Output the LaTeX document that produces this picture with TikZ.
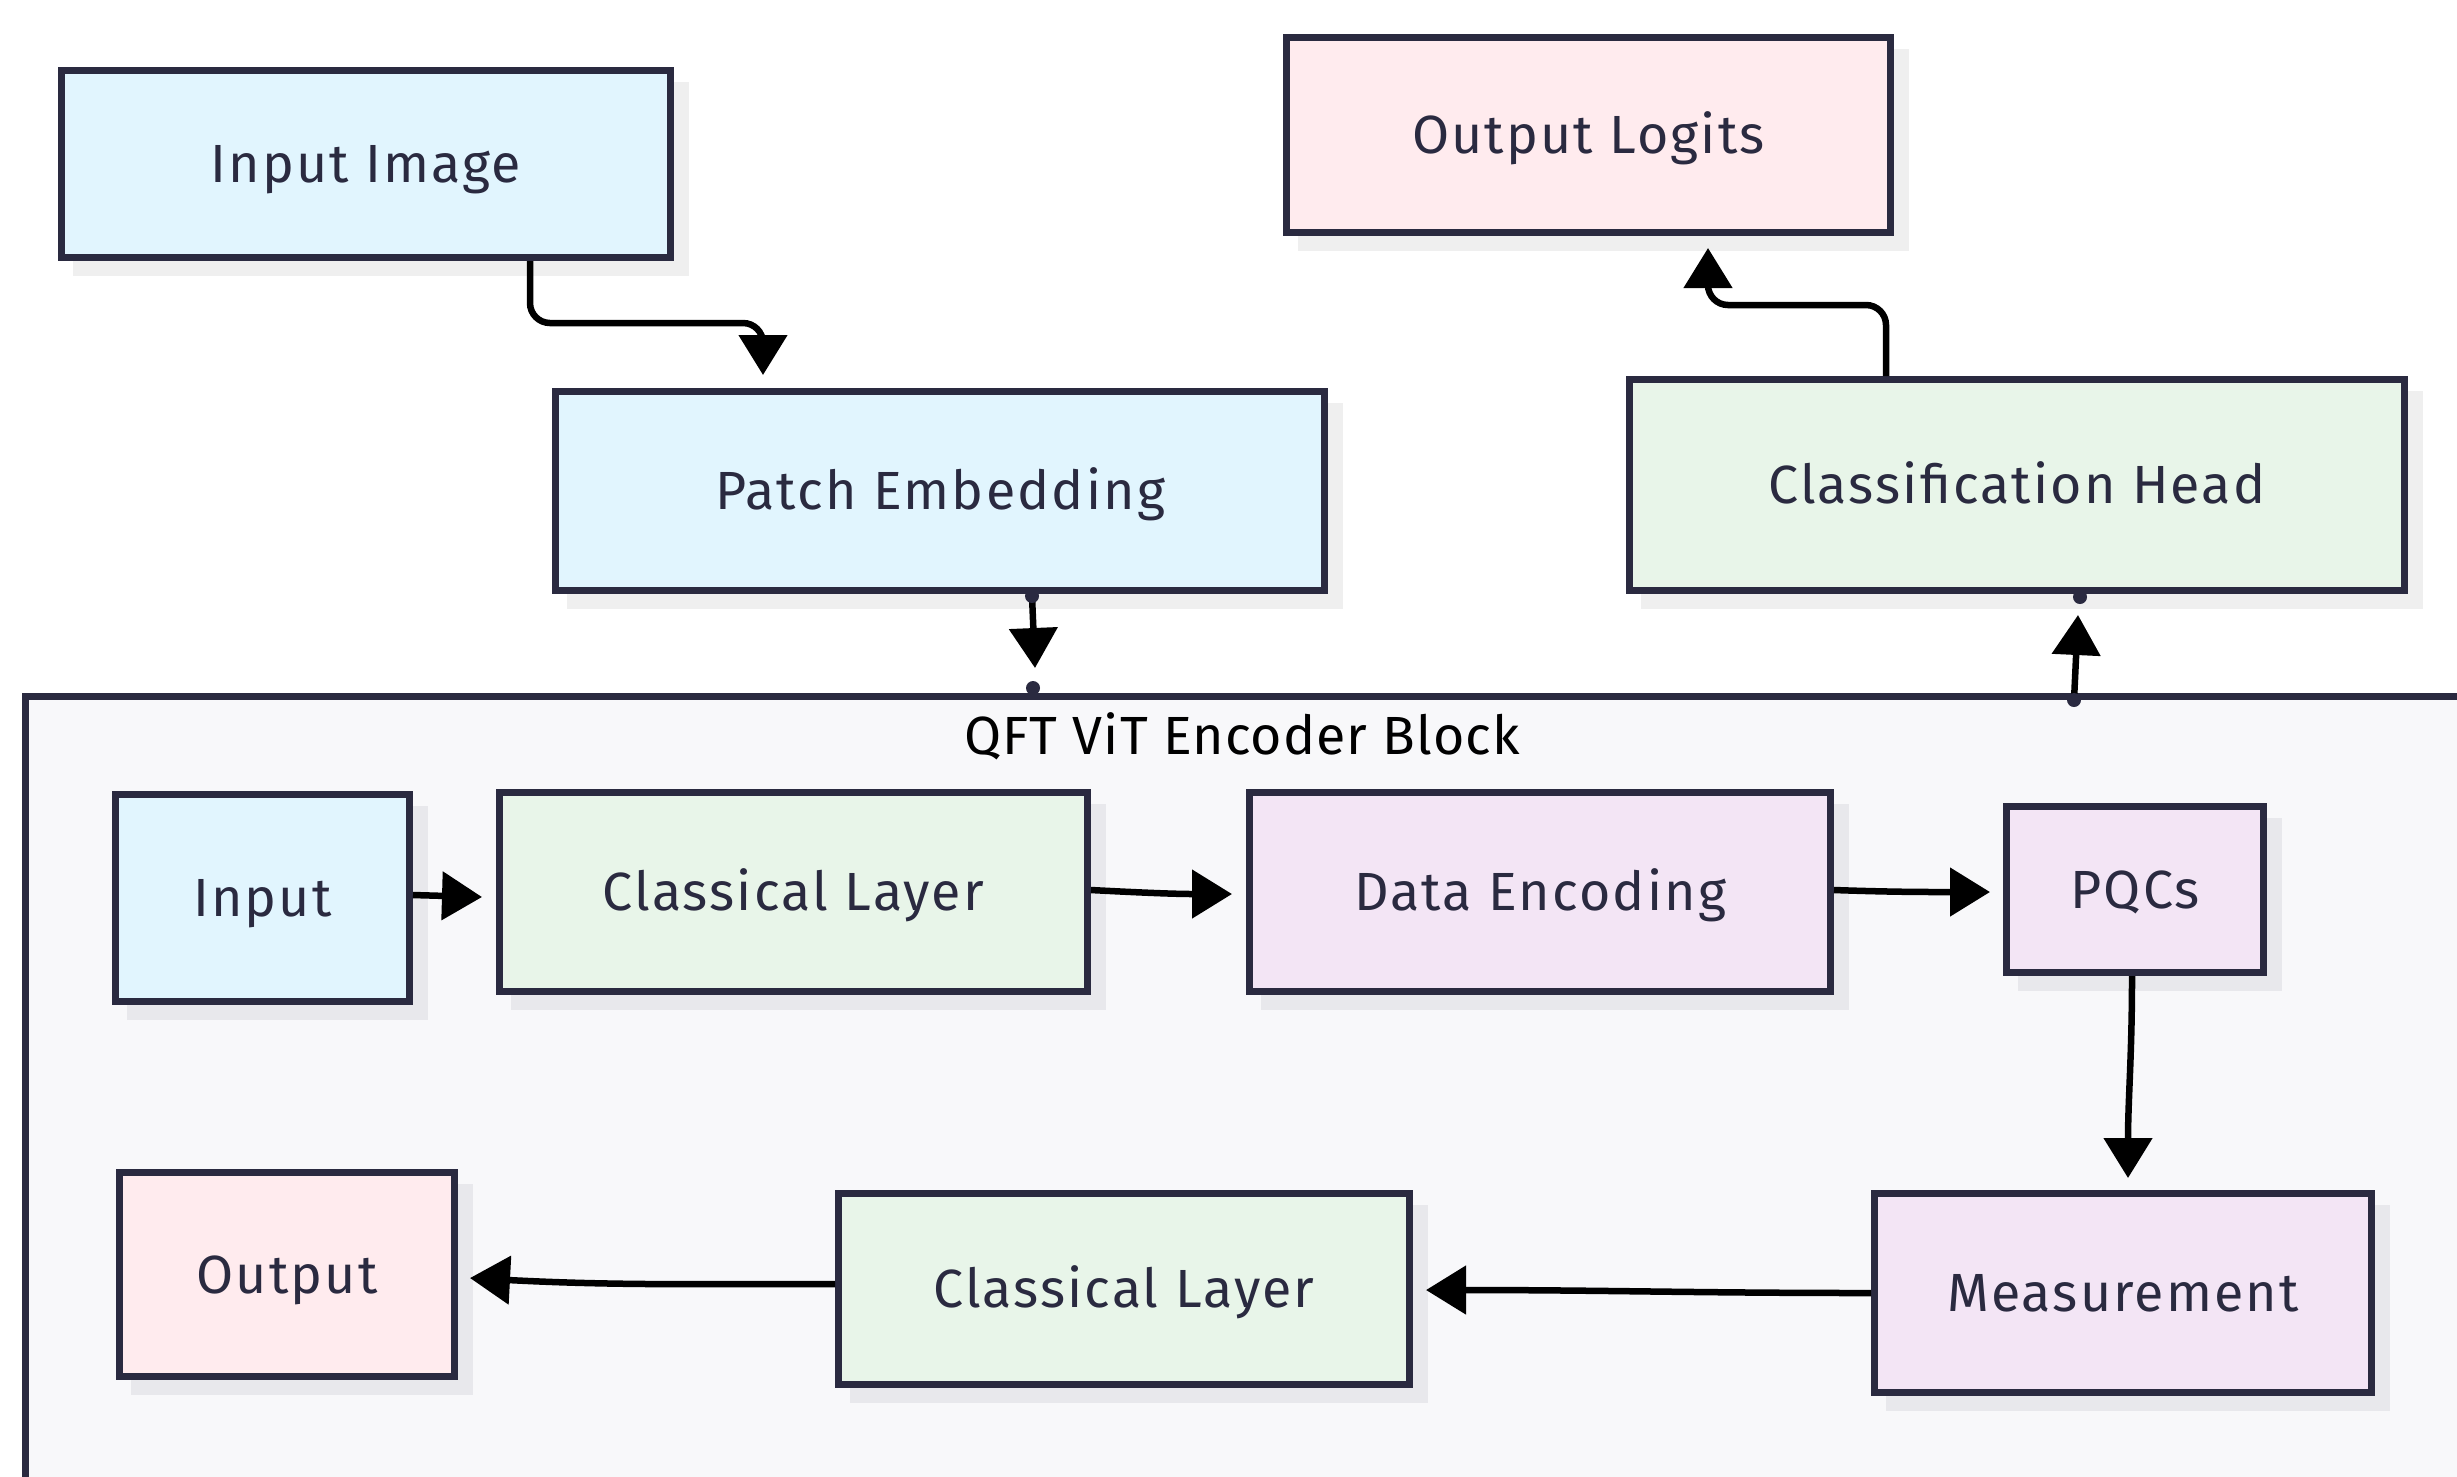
\documentclass[tikz,border=0pt]{standalone}
\usepackage{fontspec}
\setmainfont{Fira Sans}
\newfontfamily\nodefont[LetterSpace=4]{Fira Sans}
\newfontfamily\titlefont[LetterSpace=2]{Fira Sans}
\usetikzlibrary{arrows.meta,calc}
\definecolor{bordc}{HTML}{2A2A40}
\definecolor{txtc}{HTML}{2A2A40}
\definecolor{blueF}{HTML}{E1F5FE}
\definecolor{pinkF}{HTML}{FFEBEE}
\definecolor{greenF}{HTML}{E8F5E9}
\definecolor{purpF}{HTML}{F3E5F5}
\definecolor{clusF}{HTML}{F8F8FA}
\definecolor{shadoA}{HTML}{EFEFEF}
\definecolor{shadoB}{HTML}{E8E8EC}
\newcommand\mybox[7]{%
  \pgfmathsetmacro\bw{(#4-#2-7)*0.4}%
  \pgfmathsetmacro\bh{(#5-#3-7)*0.4}%
  \node[box,#6,minimum width=\bw pt,minimum height=\bh pt] (#1) at ({(#2+#4)/2},{(#3+#5)/2}) {#7};%
}
\begin{document}
\begin{tikzpicture}[x=0.4pt,y=-0.4pt,
  box/.style={draw=bordc, line width=2.8pt, text=txtc, font=\nodefont\fontsize{21.5}{26}\selectfont, inner sep=0pt, text height=14.8pt, text depth=0pt},
  shA/.style={preaction={fill=shadoA,draw=shadoA,line width=2.8pt,transform canvas={xshift=6pt,yshift=-6pt}}},
  shB/.style={preaction={fill=shadoB,draw=shadoB,line width=2.8pt,transform canvas={xshift=6pt,yshift=-6pt}}},
  edge/.style={line width=2.6pt, draw=black, -{Triangle[length=16pt,width=19pt]}},
  dotc/.style={fill=bordc}
]
\clip (0,0) rectangle (2457,1476);
\fill[white] (0,0) rectangle (2457,1476);
% outer nodes
\mybox{inimg}{58}{67}{674}{261}{fill=blueF,shA}{Input Image}
\mybox{patch}{552}{388}{1328}{594}{fill=blueF,shA}{Patch Embedding}
\mybox{logits}{1283}{34}{1894}{236}{fill=pinkF,shA}{Output Logits}
\mybox{head}{1626}{376}{2408}{594}{fill=greenF,shA}{Classification Head}
% cluster
\mybox{enc}{22}{693}{2520}{1540}{fill=clusF}{}
\node[font=\titlefont\fontsize{21.5}{26}\selectfont, text=black, text height=14.8pt, text depth=0pt, inner sep=0pt] (enctitle) at (1242,736) {QFT ViT Encoder Block};
% inner nodes
\mybox{inp}{112}{791}{413}{1005}{fill=blueF,shB}{Input}
\mybox{cl1}{496}{789}{1091}{995}{fill=greenF,shB}{Classical Layer}
\mybox{de}{1246}{789}{1834}{995}{fill=purpF,shB}{Data Encoding}
\mybox{pqc}{2003}{803}{2267}{976}{fill=purpF,shB}{PQCs}
\mybox{outp}{116}{1169}{458}{1380}{fill=pinkF,shB}{Output}
\mybox{cl2}{835}{1190}{1413}{1388}{fill=greenF,shB}{Classical Layer}
\mybox{meas}{1871}{1190}{2375}{1396}{fill=purpF,shB}{Measurement}
% edges
\draw[edge, rounded corners=8pt] ($(inimg.south)+(164,0)$) -- ($(inimg.south)+(164,62)$) -- ($(patch.north)+(-177,-65)$) -- ($(patch.north)+(-177,-13)$);
\coordinate (d1) at ($(patch.south)+(92,2)$);
\coordinate (d2) at ($(enc.north west)+(1011,-5)$);
\draw[edge] (d1) -- ($(patch.south)+(95,74)$);
\fill[dotc] (d1) circle (7);
\fill[dotc] (d2) circle (7);
\coordinate (d3) at ($(enc.north west)+(2052,7)$);
\coordinate (d4) at ($(head.south)+(63,3)$);
\draw[edge] (d3) -- ($(head.south)+(61,21)$);
\fill[dotc] (d3) circle (7);
\fill[dotc] (d4) circle (7);
\draw[edge, rounded corners=8pt] ($(head.north)+(-131,0)$) -- ($(head.north)+(-131,-71)$) -- ($(logits.south)+(119.5,69)$) -- ($(logits.south)+(119.5,12)$);
\draw[edge] ($(inp.east)+(0,-3)$) -- ($(cl1.west)+(-14,5)$);
\draw[edge] ($(cl1.east)+(0,-2)$) to[out=-3,in=180] ($(de.west)+(-14,2)$);
\draw[edge] ($(de.east)+(0,-2)$) to[out=-2,in=180] ($(pqc.west)+(-13,2.5)$);
\draw[edge] ($(pqc.south)+(-3,0)$) to[out=-90,in=90] ($(meas.north)+(5,-12)$);
\draw[edge] (meas.west) to[out=180,in=0] ($(cl2.east)+(13,1)$);
\draw[edge] ($(cl2.west)+(0,-5)$) to[out=180,in=-3] ($(outp.east)+(12,3.5)$);
\end{tikzpicture}
\end{document}
